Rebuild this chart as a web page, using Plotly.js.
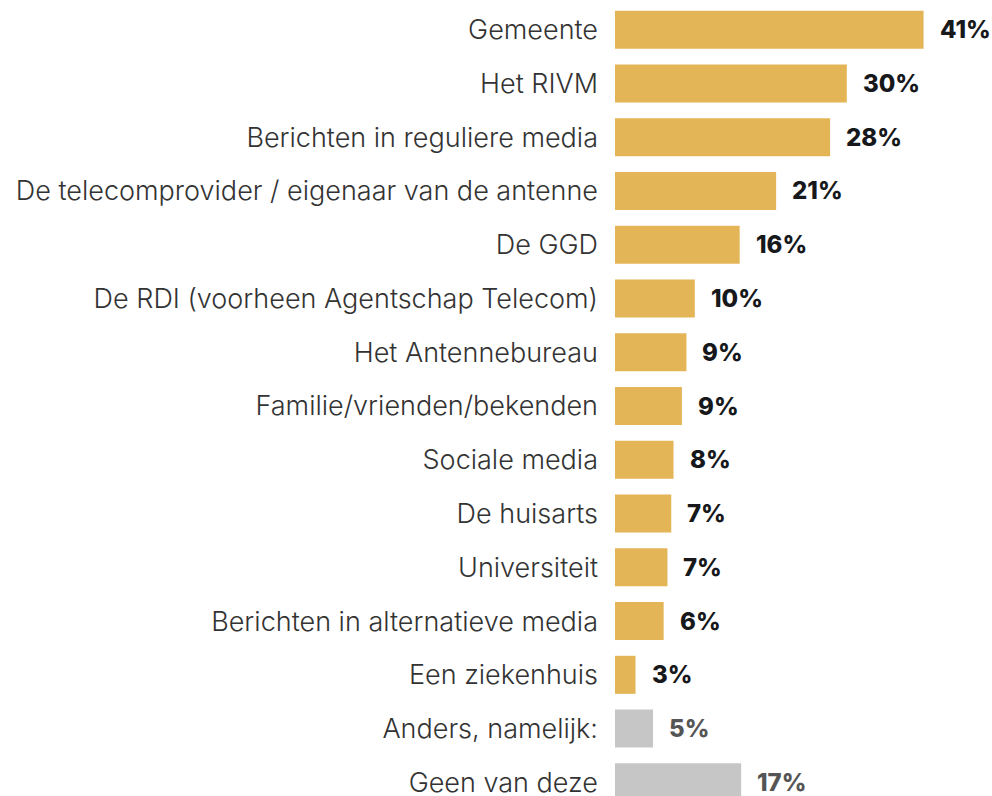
<!DOCTYPE html>
<html>
<head>
<meta charset="utf-8">
<script src="https://cdn.plot.ly/plotly-3.0.1.min.js"></script>
<style>html,body{margin:0;padding:0;background:#fff;}#chart{width:992px;height:796px;}</style>
</head>
<body>
<div id="chart"></div>
<script>
const categories = [
  "Gemeente",
  "Het RIVM",
  "Berichten in reguliere media",
  "De telecomprovider / eigenaar van de antenne",
  "De GGD",
  "De RDI (voorheen Agentschap Telecom)",
  "Het Antennebureau",
  "Familie/vrienden/bekenden",
  "Sociale media",
  "De huisarts",
  "Universiteit",
  "Berichten in alternatieve media",
  "Een ziekenhuis",
  "Anders, namelijk:",
  "Geen van deze"
];
const values = [40.6, 30.5, 28.3, 21.2, 16.4, 10.5, 9.4, 8.8, 7.7, 7.4, 6.9, 6.4, 2.7, 5.0, 16.6];
const labels = ["41%", "30%", "28%", "21%", "16%", "10%", "9%", "9%", "8%", "7%", "7%", "6%", "3%", "5%", "17%"];
const isOther = [false, false, false, false, false, false, false, false, false, false, false, false, false, true, true];

const barColors = isOther.map(o => o ? "#C6C6C6" : "#E4B557");
const textColors = isOther.map(o => o ? "#555555" : "#16181b");

const trace = {
  type: "bar",
  orientation: "h",
  y: categories,
  x: values,
  marker: {color: barColors, line: {width: 0}},
  hoverinfo: "none"
};

const annotations = categories.map((c, i) => ({
  x: values[i], y: c, xref: "x", yref: "y",
  text: labels[i],
  showarrow: false, xanchor: "left", yanchor: "middle", xshift: 14,
  font: {family: "Inter, Lato, sans-serif", size: 24, weight: 800, color: textColors[i]}
}));

const layout = {
  width: 992, height: 796,
  margin: {l: 615, r: 0, t: 0, b: 0, pad: 0},
  paper_bgcolor: "#ffffff", plot_bgcolor: "#ffffff",
  bargap: 0.293,
  showlegend: false,
  xaxis: {range: [0, 49.6], visible: false, fixedrange: true},
  yaxis: {
    type: "category",
    range: [14.254, -0.552],
    showgrid: false, zeroline: false, showline: false,
    ticks: "", ticklabelstandoff: 16,
    tickfont: {family: "Inter, Lato, sans-serif", size: 27, weight: 300, color: "#333333"},
    fixedrange: true, automargin: false
  },
  annotations: annotations
};

Plotly.newPlot("chart", [trace], layout, {displayModeBar: false, staticPlot: true});
</script>
</body>
</html>
